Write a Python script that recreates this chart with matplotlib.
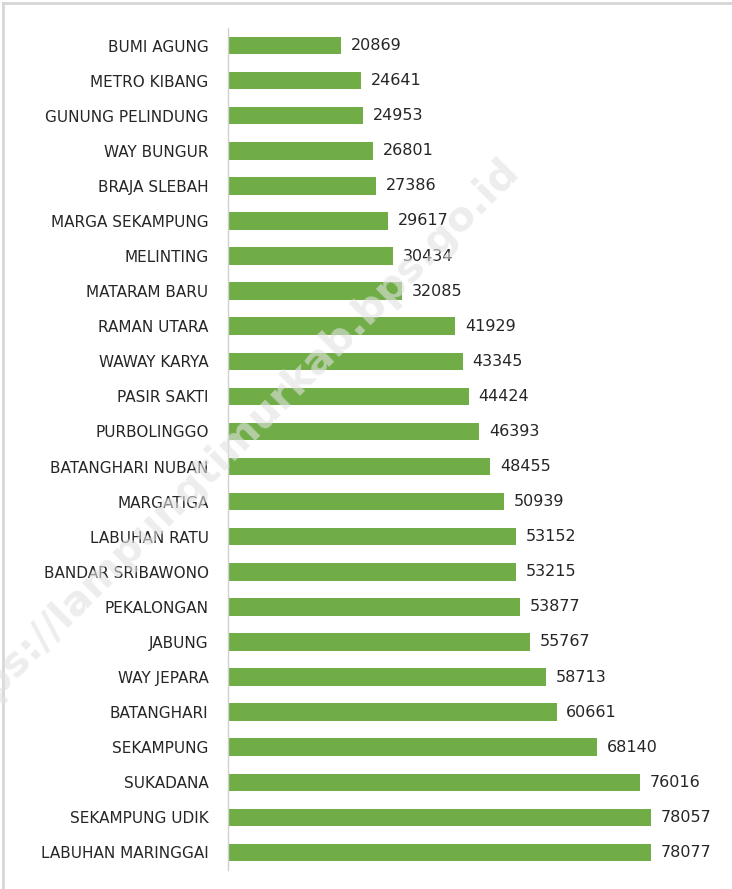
import matplotlib
matplotlib.use("Agg")
import matplotlib.pyplot as plt
from matplotlib.lines import Line2D

categories = ["BUMI AGUNG", "METRO KIBANG", "GUNUNG PELINDUNG", "WAY BUNGUR",
              "BRAJA SLEBAH", "MARGA SEKAMPUNG", "MELINTING", "MATARAM BARU",
              "RAMAN UTARA", "WAWAY KARYA", "PASIR SAKTI", "PURBOLINGGO",
              "BATANGHARI NUBAN", "MARGATIGA", "LABUHAN RATU", "BANDAR SRIBAWONO",
              "PEKALONGAN", "JABUNG", "WAY JEPARA", "BATANGHARI", "SEKAMPUNG",
              "SUKADANA", "SEKAMPUNG UDIK", "LABUHAN MARINGGAI"]
values = [20869, 24641, 24953, 26801, 27386, 29617, 30434, 32085, 41929, 43345,
          44424, 46393, 48455, 50939, 53152, 53215, 53877, 55767, 58713, 60661,
          68140, 76016, 78057, 78077]

plt.rcParams['font.family'] = ['DejaVu Sans']

W, H = 732, 889
fig = plt.figure(figsize=(W / 100, H / 100), dpi=100)
fig.patch.set_facecolor('white')

ax_left, ax_right = 228 / W, (228 + 471.3) / W
ax_top, ax_bottom = 1 - 28 / H, 1 - 870 / H
ax = fig.add_axes([ax_left, ax_bottom, ax_right - ax_left, ax_top - ax_bottom])

pos = list(range(len(categories)))
ax.barh(pos, values, height=0.5, color='#70ad47', zorder=2)
ax.set_xlim(0, 87000)
ax.set_ylim(len(categories) - 0.5, -0.5)
ax.set_yticks(pos)
ax.set_yticklabels(categories, fontsize=11, color='#262626')
ax.tick_params(axis='y', length=0, pad=14)
ax.set_xticks([])
for s in ['top', 'right', 'bottom']:
    ax.spines[s].set_visible(False)
ax.spines['left'].set_color('#d0d0d0')
ax.spines['left'].set_linewidth(1.0)

for p, v in zip(pos, values):
    ax.annotate(str(v), xy=(v, p), xytext=(7, 0), textcoords='offset points',
                ha='left', va='center', fontsize=11.5, color='#262626')

# watermark
fig.text(520 / W, 1 - 172 / H, "https://lampungtimurkab.bps.go.id",
         rotation=45, rotation_mode='anchor', ha='right', va='baseline',
         fontsize=29.5, fontweight='bold', color='#e2e2e2', alpha=0.6, zorder=10)

# border lines top and left
fig.add_artist(Line2D([3 / W, 1], [1 - 3 / H, 1 - 3 / H], color='#d6d6d6', lw=2,
                      transform=fig.transFigure))
fig.add_artist(Line2D([3 / W, 3 / W], [0, 1 - 3 / H], color='#d6d6d6', lw=2,
                      transform=fig.transFigure))

fig.savefig('out.png', dpi=100)
